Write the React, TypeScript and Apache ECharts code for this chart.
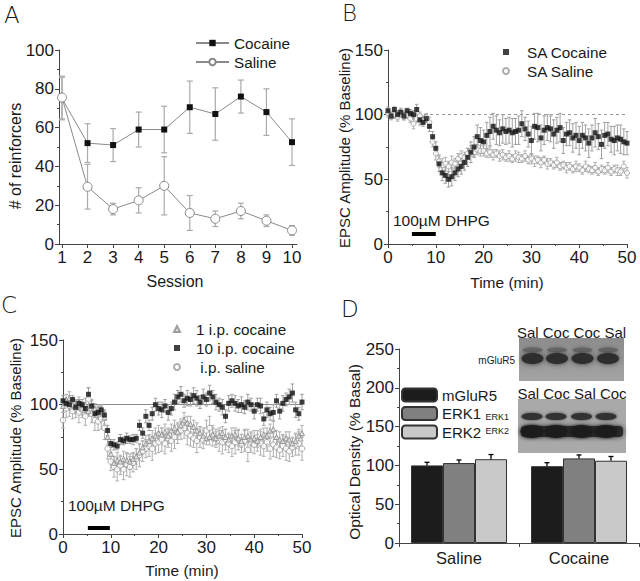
import React, { useEffect, useRef } from 'react';
import * as echarts from 'echarts';

// ---------- Panel A: reinforcers per session ----------
const sessions = [1, 2, 3, 4, 5, 6, 7, 8, 9, 10];
const cocaineMean = [75, 52, 51, 59, 59, 70.5, 67, 76, 68, 52.5];
const cocaineErr = [11, 10, 8.5, 9, 12, 13.5, 13.5, 8.5, 12, 12];
const salineMean = [75.5, 29.5, 18, 22.5, 30, 16, 13, 17, 12, 7];
const salineErr = [11, 11.5, 3, 6.5, 15, 9, 4, 4, 3, 2.5];

// ---------- Time course sampling ----------
const SAMPLE_MIN = 2 / 3;

// ---------- Panel B ----------
const bCocaine = [
  103, 99, 104, 100, 102, 99, 103, 101, 100, 104,
  96, 94, 97, 91, 83, 74, 62, 55, 53, 50,
  52, 55, 58, 60, 63, 67, 71, 75, 83, 80,
  79, 84, 87, 91, 88, 86, 89, 87, 88, 86,
  87, 88, 93, 89, 85, 80, 91, 90, 82, 88,
  90, 89, 85, 88, 90, 80, 85, 86, 82, 84,
  80, 84, 82, 78, 82, 86, 83, 77, 84, 85,
  81, 80, 82, 81, 79, 78,
];
const bCocaineErr = [
  3, 3, 2, 3, 3, 3, 2, 3, 3, 4,
  4, 3, 3, 4, 4, 5, 6, 6, 6, 6,
  7, 6, 6, 6, 6, 7, 8, 8, 9, 10,
  9, 10, 11, 10, 11, 10, 11, 10, 10, 11,
  10, 11, 10, 9, 10, 11, 10, 11, 10, 11,
  10, 10, 11, 10, 11, 10, 9, 10, 11, 10,
  11, 10, 10, 11, 10, 11, 10, 11, 10, 9,
  10, 11, 10, 11, 10, 9,
];
const bSaline = [
  101, 99, 100, 98, 101, 99, 100, 97, 93, 97,
  99, 96, 98, 94, 79, 70, 64, 61, 62, 60,
  63, 62, 66, 68, 67, 70, 72, 71, 73, 72,
  72, 70, 71, 69, 70, 68, 69, 67, 68, 66,
  68, 67, 66, 68, 65, 66, 64, 65, 63, 65,
  62, 63, 61, 63, 60, 61, 59, 60, 58, 60,
  59, 57, 60, 58, 57, 59, 56, 58, 57, 59,
  56, 58, 57, 56, 60, 55,
];
const bSalineErr = [
  3, 2, 3, 3, 2, 3, 3, 3, 4, 3,
  3, 3, 3, 4, 4, 5, 5, 5, 5, 4,
  5, 4, 4, 4, 4, 4, 4, 3, 4, 4,
  4, 3, 4, 4, 3, 4, 4, 3, 4, 3,
  4, 4, 3, 4, 3, 4, 4, 3, 4, 3,
  4, 3, 3, 4, 3, 3, 4, 3, 3, 4,
  3, 3, 4, 3, 3, 4, 3, 3, 3, 4,
  3, 3, 4, 3, 4, 4,
];

// ---------- Panel C ----------
const cOneCocaine = [
  99, 104, 105, 100, 98, 102, 97, 100, 95, 99,
  97, 94, 96, 90, 75, 62, 55, 57, 56, 58,
  57, 56, 58, 60, 63, 67, 70, 72, 74, 76,
  78, 77, 79, 76, 80, 82, 79, 84, 88, 86,
  85, 83, 80, 78, 76, 74, 75, 77, 74, 76,
  78, 75, 73, 76, 77, 74, 72, 75, 76, 73,
  74, 72, 75, 77, 76, 80, 81, 75, 73, 72,
  74, 73, 70, 72, 76, 78,
];
const cOneCocaineErr = [
  5, 4, 5, 4, 5, 4, 5, 5, 4, 5,
  4, 5, 4, 5, 6, 6, 5, 6, 5, 6,
  5, 6, 5, 6, 6, 5, 6, 5, 6, 6,
  6, 5, 6, 6, 5, 6, 6, 5, 6, 5,
  6, 5, 6, 5, 6, 5, 6, 5, 5, 6,
  5, 6, 5, 6, 5, 6, 5, 6, 5, 5,
  6, 5, 6, 5, 6, 5, 6, 5, 6, 5,
  5, 6, 5, 6, 5, 6,
];
const cTenCocaine = [
  103, 101, 100, 104, 98, 101, 100, 97, 108, 99,
  93, 94, 96, 92, 80, 70, 69, 68, 73, 72,
  74, 73, 73, 74, 84, 78, 91, 84, 93, 100,
  97, 96, 99, 94, 97, 102, 106, 108, 103, 105,
  104, 107, 105, 102, 106, 104, 109, 106, 102, 100,
  98, 91, 101, 103, 101, 99, 100, 98, 102, 100,
  95, 100, 99, 89, 96, 93, 94, 103, 95, 101,
  104, 106, 109, 96, 93, 102,
];
const cTenCocaineErr = [
  4, 3, 4, 3, 4, 3, 4, 3, 5, 4,
  3, 4, 3, 4, 4, 3, 4, 3, 4, 3,
  4, 3, 4, 3, 4, 4, 5, 4, 5, 5,
  5, 6, 5, 6, 5, 6, 5, 6, 5, 6,
  5, 6, 6, 5, 6, 5, 6, 5, 6, 5,
  6, 5, 6, 5, 6, 5, 6, 5, 6, 5,
  6, 5, 6, 5, 6, 5, 6, 5, 6, 6,
  5, 6, 7, 6, 5, 6,
];
const cSaline = [
  88, 97, 99, 95, 97, 94, 96, 91, 104, 93,
  88, 87, 89, 82, 66, 56, 52, 50, 53, 50,
  54, 52, 55, 58, 61, 64, 66, 68, 66, 70,
  71, 73, 70, 74, 72, 75, 78, 80, 82, 78,
  76, 74, 72, 75, 73, 80, 82, 76, 74, 72,
  71, 73, 70, 68, 71, 73, 70, 72, 65, 71,
  69, 72, 70, 68, 71, 66, 69, 67, 65, 68,
  66, 64, 67, 69, 70, 66,
];
const cSalineErr = [
  6, 7, 8, 6, 7, 8, 6, 7, 9, 7,
  8, 7, 8, 9, 8, 7, 8, 9, 7, 8,
  9, 8, 7, 8, 9, 8, 7, 8, 9, 8,
  8, 9, 8, 7, 8, 9, 8, 7, 8, 9,
  8, 7, 9, 8, 7, 8, 9, 8, 7, 8,
  9, 8, 7, 8, 9, 8, 7, 8, 9, 8,
  7, 8, 9, 8, 7, 8, 9, 8, 7, 8,
  9, 8, 7, 8, 9, 9,
];

const baselinePct = 100;
const dhpgB = [5, 10];
const dhpgBarB = 8;
const dhpgC = [5.2, 9.8];
const dhpgBarC = 4.6;

// ---------- Panel D ----------
const dGroups = ['Saline', 'Cocaine'];
const dSeriesNames = ['mGluR5', 'ERK1', 'ERK2'];
const mGluR5 = [100, 99];
const mGluR5Err = [4, 4.5];
const erk1 = [103, 109];
const erk1Err = [4, 4.5];
const erk2 = [108, 106];
const erk2Err = [6, 5.5];

const FONT = 'Liberation Sans, Arial, sans-serif';
const LETTER_FONT = 'DejaVu Sans, sans-serif';
const AXIS_COLOR = '#444';
const TEXT_COLOR = '#1a1a1a';

function yAx(gridIndex: number, min: number, max: number, interval: number) {
  return {
    type: 'value', gridIndex, min, max, interval,
    axisLine: { show: true, lineStyle: { color: AXIS_COLOR, width: 1 } },
    axisTick: { show: true, length: 4, lineStyle: { color: AXIS_COLOR } },
    minorTick: { show: true, splitNumber: 2, length: 2, lineStyle: { color: AXIS_COLOR } },
    splitLine: { show: false }, minorSplitLine: { show: false },
    axisLabel: { fontSize: 17, color: TEXT_COLOR, fontFamily: FONT, margin: 5 },
  };
}
function timeAx(gridIndex: number) {
  return {
    type: 'value', gridIndex, min: 0, max: 50, interval: 10, position: 'bottom',
    axisLine: { show: true, onZero: false, lineStyle: { color: AXIS_COLOR, width: 1 } },
    axisTick: { show: true, length: 4, lineStyle: { color: AXIS_COLOR } },
    minorTick: { show: true, splitNumber: 2, length: 2, lineStyle: { color: AXIS_COLOR } },
    splitLine: { show: false }, minorSplitLine: { show: false },
    axisLabel: { fontSize: 17, color: TEXT_COLOR, fontFamily: FONT, margin: 5 },
  };
}

function errSeries(axisIndex: number, data: number[][], color: string, cap: number, width = 1) {
  return {
    type: 'custom', xAxisIndex: axisIndex, yAxisIndex: axisIndex, z: 1, silent: true,
    encode: { x: 0, y: 1 },
    data,
    renderItem: (params: any, api: any) => {
      const x = api.value(0), y = api.value(1), e = api.value(2);
      const hi = api.coord([x, y + e]);
      const lo = api.coord([x, y - e]);
      const style = { stroke: color, lineWidth: width };
      return {
        type: 'group',
        children: [
          { type: 'line', shape: { x1: hi[0], y1: hi[1], x2: lo[0], y2: lo[1] }, style },
          { type: 'line', shape: { x1: hi[0] - cap, y1: hi[1], x2: hi[0] + cap, y2: hi[1] }, style },
          { type: 'line', shape: { x1: lo[0] - cap, y1: lo[1], x2: lo[0] + cap, y2: lo[1] }, style },
        ],
      };
    },
  };
}

const timeOf = (i: number) => i * SAMPLE_MIN;
const pts = (vals: number[]) => vals.map((v, i) => [timeOf(i), v]);
const ptsErr = (vals: number[], errs: number[]) => vals.map((v, i) => [timeOf(i), v, errs[i]]);

function txt(text: string, x: number, y: number, size: number, extra: any = {}) {
  return {
    type: 'text', x, y, silent: true, rotation: extra.rotation || 0,
    style: {
      text, fill: TEXT_COLOR, fontSize: size, fontFamily: extra.fontFamily || FONT,
      fontWeight: extra.fontWeight || 'normal',
      align: extra.align || 'center', verticalAlign: 'middle',
      textAlign: extra.align || 'center', textVerticalAlign: 'middle',
    },
  };
}

function buildOption() {
  const dVals = [mGluR5, erk1, erk2];
  const dErrs = [mGluR5Err, erk1Err, erk2Err];
  const dColors = ['#1c1c1c', '#808080', '#c9c9c9'];
  const dErrData: number[][] = [];
  dVals.forEach((arr, k) => arr.forEach((v, c) => dErrData.push([c, v, dErrs[k][c], k])));

  const topLanes = [532.5, 557, 582.5, 608];
  const botLanes = [532, 556, 581.5, 606];

  const graphic: any[] = [
    txt('A', 4, 15, 23, { align: 'left', fontFamily: LETTER_FONT, fontWeight: 200 }),
    txt('B', 342, 13, 23, { align: 'left', fontFamily: LETTER_FONT, fontWeight: 200 }),
    txt('C', 1, 305, 23, { align: 'left', fontFamily: LETTER_FONT, fontWeight: 200 }),
    txt('D', 341, 309, 23, { align: 'left', fontFamily: LETTER_FONT, fontWeight: 200 }),
    txt('# of reinforcers', 15, 156, 16, { rotation: Math.PI / 2 }),
    txt('Session', 175, 281, 16),
    txt('EPSC Amplitude (% Baseline)', 344, 148, 15, { rotation: Math.PI / 2 }),
    txt('Time (min)', 507, 282, 15.5),
    txt('EPSC Amplitude (% Baseline)', 15, 438, 15, { rotation: Math.PI / 2 }),
    txt('Time (min)', 182, 570, 15.5),
    txt('Optical Density (% Basal)', 354, 452, 15.5, { rotation: Math.PI / 2 }),
    txt('100\u00b5M DHPG', 393, 220, 15.5, { align: 'left' }),
    txt('100\u00b5M DHPG', 68, 505, 15.5, { align: 'left' }),
    // blots
    { type: 'rect', silent: true, shape: { x: 519, y: 338, width: 105, height: 43 },
      style: { fill: { type: 'linear', x: 0, y: 0, x2: 0, y2: 1, colorStops: [
        { offset: 0, color: '#8c8c8c' }, { offset: 1, color: '#a4a4a4' }] } } },
    ...topLanes.map((cx) => ({ type: 'ellipse', silent: true, shape: { cx, cy: 350, rx: 10, ry: 2.5 },
      style: { fill: '#666', shadowBlur: 4, shadowColor: '#666' } })),
    ...topLanes.map((cx) => ({ type: 'ellipse', silent: true, shape: { cx, cy: 358.5, rx: 11, ry: 5.5 },
      style: { fill: '#2e2e2e', shadowBlur: 5, shadowColor: '#3a3a3a' } })),
    { type: 'rect', silent: true, shape: { x: 518, y: 399, width: 108, height: 54 },
      style: { fill: '#a9a9a9' } },
    { type: 'rect', silent: true, shape: { x: 521, y: 426, width: 102, height: 11, r: 4 },
      style: { fill: '#2c2c2c', shadowBlur: 5, shadowColor: '#2c2c2c' } },
    ...botLanes.map((cx) => ({ type: 'ellipse', silent: true, shape: { cx, cy: 431.5, rx: 11.5, ry: 6.5 },
      style: { fill: '#1e1e1e', shadowBlur: 3, shadowColor: '#1e1e1e' } })),
    ...botLanes.map((cx) => ({ type: 'ellipse', silent: true, shape: { cx, cy: 416.5, rx: 10.5, ry: 3.5 },
      style: { fill: '#333', shadowBlur: 3, shadowColor: '#333' } })),
    txt('Sal Coc Coc Sal', 571.5, 332, 15),
    txt('Sal Coc Sal Coc', 572, 393, 15),
    txt('mGluR5', 515, 360, 10, { align: 'right' }),
    txt('ERK1', 509, 417, 9, { align: 'right' }),
    txt('ERK2', 509, 431, 9, { align: 'right' }),
  ];

  const legendText = { fontSize: 15.3, lineHeight: 16, fontFamily: FONT, color: TEXT_COLOR };

  return {
    animation: false,
    backgroundColor: '#ffffff',
    textStyle: { fontFamily: FONT },
    grid: [
      { left: 59, top: 50, width: 238, height: 194, containLabel: false, outerBoundsMode: 'none' },
      { left: 388, top: 50, width: 239, height: 194, containLabel: false, outerBoundsMode: 'none' },
      { left: 63, top: 340, width: 239, height: 194, containLabel: false, outerBoundsMode: 'none' },
      { left: 399, top: 349, width: 240, height: 194, containLabel: false, outerBoundsMode: 'none' },
    ],
    xAxis: [
      {
        type: 'value', gridIndex: 0, min: 0.883, max: 10.196, position: 'bottom',
        axisLine: { show: true, onZero: false, lineStyle: { color: AXIS_COLOR, width: 1 } },
        axisTick: { show: true, length: 4, customValues: sessions, lineStyle: { color: AXIS_COLOR } },
        axisLabel: { customValues: sessions, fontSize: 17, color: TEXT_COLOR, fontFamily: FONT, margin: 5 },
        splitLine: { show: false },
      },
      timeAx(1),
      timeAx(2),
      {
        type: 'category', gridIndex: 3, data: dGroups, position: 'bottom',
        axisLine: { show: true, lineStyle: { color: AXIS_COLOR, width: 1 } },
        axisTick: { show: true, length: 4, alignWithLabel: false, lineStyle: { color: AXIS_COLOR } },
        axisLabel: { fontSize: 16.5, color: TEXT_COLOR, fontFamily: FONT, margin: 6 },
        splitLine: { show: false },
      },
    ],
    yAxis: [yAx(0, 0, 100, 20), yAx(1, 0, 150, 50), yAx(2, 0, 150, 50), yAx(3, 0, 250, 50)],
    legend: [
      { data: ['Cocaine', 'Saline'], orient: 'vertical', left: 195, top: 35, itemWidth: 33, itemHeight: 8,
        itemGap: 3, padding: 0, selectedMode: false, textStyle: legendText },
      { data: ['SA Cocaine', 'SA Saline'], orient: 'vertical', left: 502, top: 44, itemWidth: 6, itemHeight: 6,
        itemGap: 3, padding: 0, selectedMode: false, textStyle: { ...legendText, padding: [0, 0, 0, 13] } },
      { data: ['1 i.p. cocaine', '10 i.p. cocaine', ' i.p. saline'], orient: 'vertical', left: 173, top: 321,
        itemWidth: 6, itemHeight: 6, itemGap: 3, padding: 0, selectedMode: false,
        textStyle: { ...legendText, padding: [0, 0, 0, 11] } },
      { data: dSeriesNames, orient: 'vertical', left: 401, top: 387, itemWidth: 35, itemHeight: 13,
        itemGap: 2.5, padding: 0, selectedMode: false, textStyle: { ...legendText, fontSize: 15 } },
    ],
    graphic,
    series: [
      // Panel A
      errSeries(0, sessions.map((s, i) => [s, cocaineMean[i], cocaineErr[i]]), '#aaaaaa', 3, 1.2),
      errSeries(0, sessions.map((s, i) => [s, salineMean[i], salineErr[i]]), '#aaaaaa', 3, 1.2),
      {
        name: 'Cocaine', type: 'line', xAxisIndex: 0, yAxisIndex: 0, z: 3,
        data: sessions.map((s, i) => [s, cocaineMean[i]]),
        symbol: 'rect', symbolSize: 6, itemStyle: { color: '#111' },
        lineStyle: { color: '#8a8a8a', width: 1 },
      },
      {
        name: 'Saline', type: 'line', xAxisIndex: 0, yAxisIndex: 0, z: 4,
        data: sessions.map((s, i) => [s, salineMean[i]]),
        symbol: 'circle', symbolSize: 9,
        itemStyle: { color: '#ffffff', borderColor: '#888', borderWidth: 1 },
        lineStyle: { color: '#8a8a8a', width: 1 },
      },
      // Panel B
      errSeries(1, ptsErr(bSaline, bSalineErr), '#b0b0b0', 1.8, 1),
      errSeries(1, ptsErr(bCocaine, bCocaineErr), '#a0a0a0', 1.8, 1),
      {
        name: 'SA Saline', type: 'scatter', xAxisIndex: 1, yAxisIndex: 1, z: 3,
        data: pts(bSaline), symbol: 'circle', symbolSize: 5,
        itemStyle: { color: '#ffffff', borderColor: '#999', borderWidth: 1 },
      },
      {
        name: 'SA Cocaine', type: 'scatter', xAxisIndex: 1, yAxisIndex: 1, z: 4,
        data: pts(bCocaine), symbol: 'rect', symbolSize: 5, itemStyle: { color: '#111' },
        markLine: {
          silent: true, symbol: ['none', 'none'], label: { show: false }, z: 0,
          data: [
            { yAxis: baselinePct, lineStyle: { type: [3, 3], color: '#999', width: 1 } },
            [
              { coord: [dhpgB[0], dhpgBarB], lineStyle: { type: 'solid', color: '#000', width: 4 } },
              { coord: [dhpgB[1], dhpgBarB] },
            ],
          ],
        },
      },
      // Panel C
      errSeries(2, ptsErr(cSaline, cSalineErr), '#b0b0b0', 1.8, 1),
      errSeries(2, ptsErr(cOneCocaine, cOneCocaineErr), '#b0b0b0', 1.8, 1),
      errSeries(2, ptsErr(cTenCocaine, cTenCocaineErr), '#a0a0a0', 1.8, 1),
      {
        name: ' i.p. saline', type: 'scatter', xAxisIndex: 2, yAxisIndex: 2, z: 3,
        data: pts(cSaline), symbol: 'circle', symbolSize: 5.5,
        itemStyle: { color: '#ffffff', borderColor: '#999', borderWidth: 1 },
      },
      {
        name: '1 i.p. cocaine', type: 'scatter', xAxisIndex: 2, yAxisIndex: 2, z: 3,
        data: pts(cOneCocaine), symbol: 'triangle', symbolSize: 5,
        itemStyle: { color: '#e6e6e6', borderColor: '#888', borderWidth: 1 },
      },
      {
        name: '10 i.p. cocaine', type: 'scatter', xAxisIndex: 2, yAxisIndex: 2, z: 4,
        data: pts(cTenCocaine), symbol: 'rect', symbolSize: 5, itemStyle: { color: '#111' },
        markLine: {
          silent: true, symbol: ['none', 'none'], label: { show: false }, z: 0,
          data: [
            { yAxis: baselinePct, lineStyle: { type: 'solid', color: '#8a8a8a', width: 1 } },
            [
              { coord: [dhpgC[0], dhpgBarC], lineStyle: { type: 'solid', color: '#000', width: 4 } },
              { coord: [dhpgC[1], dhpgBarC] },
            ],
          ],
        },
      },
      // Panel D
      ...dSeriesNames.map((name, k) => ({
        name, type: 'bar', xAxisIndex: 3, yAxisIndex: 3, data: dVals[k],
        barGap: '0%', barCategoryGap: '20%',
        itemStyle: { color: dColors[k], borderColor: '#333', borderWidth: 1 },
      })),
      {
        type: 'custom', xAxisIndex: 3, yAxisIndex: 3, z: 5, silent: true,
        encode: { x: 0, y: 1 }, data: dErrData,
        renderItem: (params: any, api: any) => {
          const c = api.value(0), v = api.value(1), e = api.value(2), k = api.value(3);
          const bw = api.size([1, 0])[0];
          const barW = (bw * 0.8) / 3;
          const base = api.coord([c, v]);
          const top = api.coord([c, v + e]);
          const x = base[0] - bw * 0.4 + (k + 0.5) * barW;
          const style = { stroke: '#000', lineWidth: 1.3 };
          return {
            type: 'group',
            children: [
              { type: 'line', shape: { x1: x, y1: base[1], x2: x, y2: top[1] }, style },
              { type: 'line', shape: { x1: x - 2.5, y1: top[1], x2: x + 2.5, y2: top[1] }, style },
            ],
          };
        },
      },
    ],
  };
}

export default function App() {
  const ref = useRef<HTMLDivElement>(null);
  useEffect(() => {
    if (!ref.current) return;
    const chart = echarts.init(ref.current, null, { renderer: 'svg' });
    chart.setOption(buildOption() as any);
    return () => chart.dispose();
  }, []);
  return (
    <div
      ref={ref}
      style={{ position: 'absolute', left: 0, top: 0, width: 640, height: 581, background: '#fff' }}
    />
  );
}
